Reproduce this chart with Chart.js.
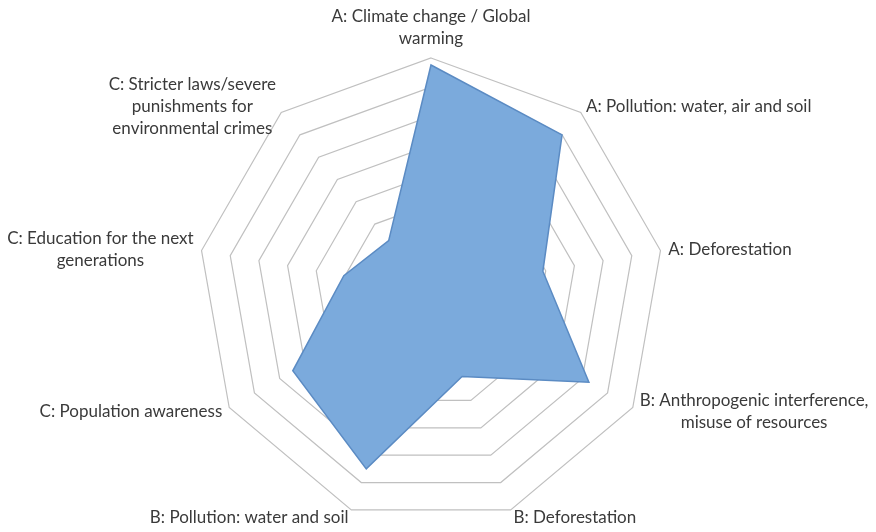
<!DOCTYPE html>
<html>
<head>
<meta charset="utf-8">
<script src="https://cdn.jsdelivr.net/npm/chart.js@4/dist/chart.umd.min.js"></script>
<style>
    html, body { margin: 0; padding: 0; background: #fff; }
    #wrap { width: 876px; height: 532px; position: relative; }
</style>
</head>
<body>
<div id="wrap"><canvas id="radarChart"></canvas></div>
<script>
    // ── Data ─────────────────────────────────────────────────────
    const categories = [
        ['A: Climate change / Global', 'warming'],
        ['A: Pollution: water, air and soil'],
        ['A: Deforestation'],
        ['B: Anthropogenic interference,', 'misuse of resources'],
        ['B: Deforestation'],
        ['B: Pollution: water and soil'],
        ['C: Population awareness'],
        ['C: Education for the next', 'generations'],
        ['C: Stricter laws/severe', 'punishments for', 'environmental crimes']
    ];
    const responses = [38.8, 35, 19.5, 31.3, 15.6, 32.5, 27.4, 15.2, 11.3];
    const scaleMax = 40;
    const scaleStep = 5;

    // ── Point labels drawn Excel-style around the outer ring ─────
    const labelPlugin = {
        id: 'excelLabels',
        afterDraw(chart) {
            const scale = chart.scales.r;
            const ctx = chart.ctx;
            const lineH = 22;
            ctx.save();
            ctx.font = '17px Lato, "Open Sans", sans-serif';
            ctx.fillStyle = '#3a3a3a';
            ctx.textBaseline = 'middle';
            categories.forEach((lines, i) => {
                const p = scale.getPointPosition(i, scale.drawingArea + 8);
                const ang = (2 * Math.PI * i) / categories.length;
                const s = Math.sin(ang), c = Math.cos(ang);
                const widths = lines.map(l => ctx.measureText(l).width);
                const blockW = Math.max(...widths);
                const blockH = lines.length * lineH;
                let left;
                if (s > 0.05) left = p.x;
                else if (s < -0.05) left = p.x - blockW;
                else left = p.x - blockW / 2;
                let top = p.y - blockH / 2;
                if (c > 0.95) top = p.y - blockH;
                ctx.textAlign = 'center';
                lines.forEach((l, k) => {
                    ctx.fillText(l, left + blockW / 2, top + lineH * k + lineH / 2);
                });
            });
            ctx.restore();
        }
    };

    const ctx = document.getElementById('radarChart');
    new Chart(ctx, {
        type: 'radar',
        data: {
            labels: categories,
            datasets: [{
                data: responses,
                backgroundColor: '#7BAADC',
                borderColor: '#5B8BC3',
                borderWidth: 1.5,
                pointRadius: 0,
                tension: 0,
                fill: true
            }]
        },
        options: {
            responsive: true, maintainAspectRatio: false, animation: false,
            layout: { padding: { top: 58, bottom: 8, left: 100, right: 114 } },
            plugins: { legend: { display: false }, tooltip: { enabled: false } },
            scales: {
                r: {
                    min: 0, max: scaleMax,
                    ticks: { display: false, stepSize: scaleStep },
                    grid: { color: '#C0C0C0', lineWidth: 1.2 },
                    angleLines: { display: false },
                    pointLabels: { display: false }
                }
            }
        },
        plugins: [labelPlugin]
    });
</script>
</body>
</html>
